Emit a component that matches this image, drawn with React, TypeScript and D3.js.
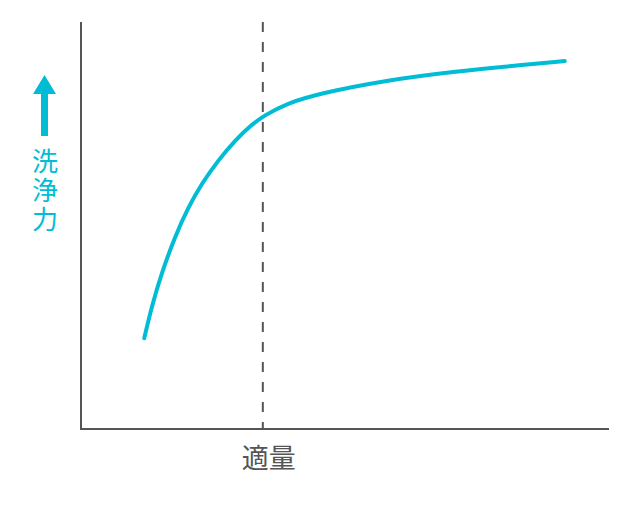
import React, { useEffect, useRef } from "react";
import * as d3 from "d3";

// detergent amount (arbitrary units) vs cleaning power
const amounts = [12, 13.4, 15.3, 17.8, 20.4, 22.9, 26.1, 29.2, 32.4, 34.6, 39, 45.4, 58, 70.6, 83.3, 91.8];
const cleaning = [22.3, 30, 38.3, 47.2, 54.6, 60.3, 66.1, 70.9, 74.8, 76.9, 80, 82.5, 85.7, 87.8, 89.4, 90.4];
const optimalAmount = 34.5;
const xLabel = "適量";
const yLabel = "洗浄力";

const TEAL = "#00bcd4";
const GRAY = "#555555";

export default function App() {
    const svgRef = useRef<SVGSVGElement | null>(null);
    const width = 640;
    const height = 510;

    useEffect(() => {
        const svg = d3.select(svgRef.current);
        svg.selectAll("*").remove();

        const x = d3.scaleLinear().domain([0, 100]).range([81, 608]);
        const y = d3.scaleLinear().domain([0, 100]).range([429, 22]);

        const data = amounts.map((a, i) => ({ a, c: cleaning[i] }));

        // dashed line at the right amount
        svg.append("line")
            .attr("x1", x(optimalAmount))
            .attr("x2", x(optimalAmount))
            .attr("y1", y(100))
            .attr("y2", y(0))
            .attr("stroke", GRAY)
            .attr("stroke-width", 2)
            .attr("stroke-dasharray", "10,10");

        // axes (no ticks)
        svg.append("path")
            .attr("d", `M${x(0)},${y(100)}V${y(0)}H${x(100) + 1}`)
            .attr("fill", "none")
            .attr("stroke", GRAY)
            .attr("stroke-width", 2);

        // the curve
        svg.append("path")
            .datum(data)
            .attr("fill", "none")
            .attr("stroke", TEAL)
            .attr("stroke-width", 4)
            .attr("stroke-linecap", "round")
            .attr("d", d3.line<{ a: number; c: number }>()
                .x((d) => x(d.a))
                .y((d) => y(d.c))
                .curve(d3.curveBasis));

        // x label
        svg.append("text")
            .attr("x", x(optimalAmount) + 6)
            .attr("y", 468)
            .attr("text-anchor", "middle")
            .attr("font-family", "'Noto Sans CJK JP', sans-serif")
            .attr("font-size", 27)
            .attr("fill", GRAY)
            .text(xLabel);

        // y arrow
        svg.append("rect")
            .attr("x", 41)
            .attr("y", 92)
            .attr("width", 7)
            .attr("height", 44)
            .attr("fill", TEAL);
        svg.append("path")
            .attr("d", "M44.5,75L56,94H33Z")
            .attr("fill", TEAL);

        // y label, vertical
        svg.append("text")
            .attr("x", 45)
            .attr("y", 148)
            .attr("font-family", "'Noto Sans CJK JP', sans-serif")
            .attr("font-size", 26)
            .attr("letter-spacing", 3)
            .attr("fill", TEAL)
            .style("writing-mode", "vertical-rl")
            .text(yLabel);
    }, []);

    return (
        <svg
            ref={svgRef}
            width={width}
            height={height}
            style={{ position: "absolute", left: 0, top: 0 }}
        />
    );
}
